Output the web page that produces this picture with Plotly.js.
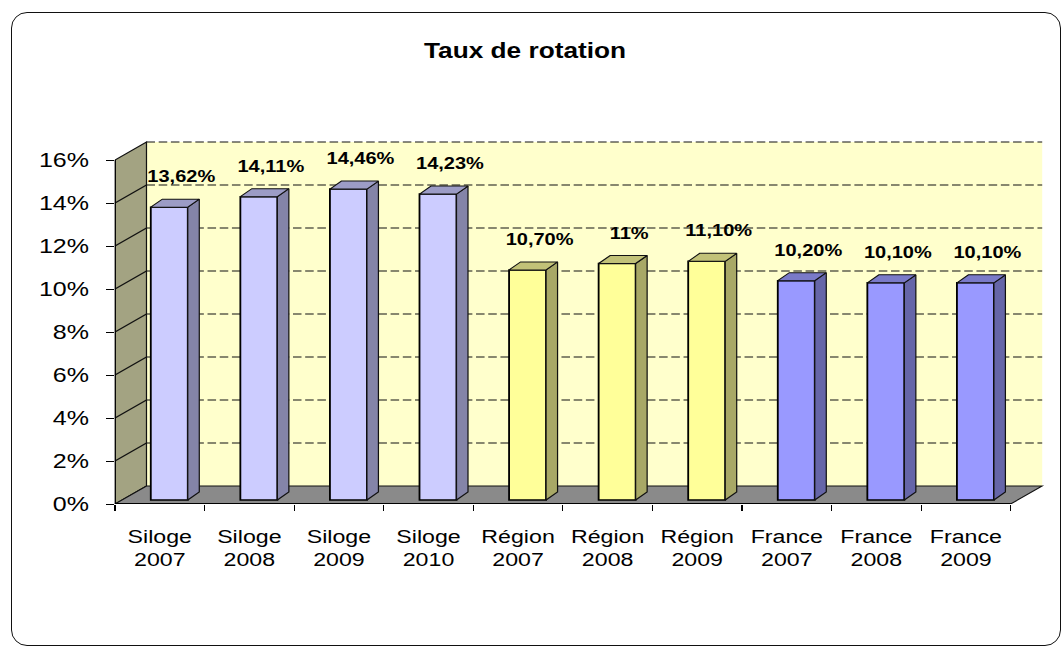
<!DOCTYPE html>
<html><head><meta charset="utf-8">
<script src="https://cdn.plot.ly/plotly-3.0.1.min.js"></script>
<style>
html,body{margin:0;padding:0;background:#fff;overflow:hidden;width:1063px;height:647px;}
#frame{position:absolute;left:11px;top:12px;width:1050px;height:634px;border:1.6px solid #111;border-radius:16px;box-sizing:border-box;}
#chart{position:absolute;left:0;top:0;width:871px;height:647px;transform:scaleX(1.2205);transform-origin:0 0;}
</style></head><body>
<div id="frame"></div><div id="chart"></div>
<script>
// ---- data ----
const groups = ["Siloge","Siloge","Siloge","Siloge","Région","Région","Région","France","France","France"];
const years = ["2007","2008","2009","2010","2007","2008","2009","2007","2008","2009"];
const values = [13.62, 14.11, 14.46, 14.23, 10.70, 11.00, 11.10, 10.20, 10.10, 10.10];
const valueLabels = ["13,62%","14,11%","14,46%","14,23%","10,70%","11%","11,10%","10,20%","10,10%","10,10%"];
const yTicks = [0,2,4,6,8,10,12,14,16];
const yTickLabels = ["0%","2%","4%","6%","8%","10%","12%","14%","16%"];

// ---- style ----
const groupColors = {
  "Siloge": {front:"#CCCCFF", side:"#8484A8", top:"#9C9CC6"},
  "Région": {front:"#FFFF99", side:"#A8A866", top:"#C2C278"},
  "France": {front:"#9999FF", side:"#6666A8", top:"#7A7AC8"}
};
const FONT = "Liberation Sans, Arial, sans-serif";
const W = 871, H = 647;
const CAT_PX = 89.57/1.2205, PCT_PX = 21.5;
const L = 94, R = 8, T = 120, B = 143;
const xLo = -0.5 - (115/1.2205 - L)/CAT_PX;
const xHi = xLo + (W - L - R)/CAT_PX;
const yHi = (H - B - T)/PCT_PX;
// depth (3D look) in axis units
const DX = 31.5/89.57, DY = 18/PCT_PX;
const BO = 9.5/89.57, BW = 37/89.57, BY = 4/PCT_PX;
const BDX = 11.5/89.57, BDY = 8/PCT_PX;
const LX = 12/89.57, LY = 29/PCT_PX;
const n = values.length;
const idx = values.map((v,i)=>i);
const wallTop = yTicks[yTicks.length-1];
const x0 = -0.5, x1 = n - 0.5;

// ---- shapes: walls, floor, gridlines ----
const shapes = [];
shapes.push({type:"rect", xref:"x", yref:"y", layer:"below", x0:x0+DX, x1:x1+DX, y0:DY, y1:wallTop+DY,
  fillcolor:"#FFFFCC", line:{width:0}});
yTicks.forEach(t=>{ if(t>0) shapes.push({type:"line", xref:"x", yref:"y", layer:"below",
  x0:x0+DX, x1:x1+DX, y0:t+DY, y1:t+DY, line:{color:"#111", width:1, dash:"7px,3px"}}); });
shapes.push({type:"path", xref:"x", yref:"y", layer:"below",
  path:`M ${x0},0 L ${x0},${wallTop} L ${x0+DX},${wallTop+DY} L ${x0+DX},${DY} Z`,
  fillcolor:"#A3A382", line:{color:"#111", width:1}});
yTicks.forEach(t=>{ if(t>0 && t<wallTop) shapes.push({type:"line", xref:"x", yref:"y", layer:"below",
  x0:x0, x1:x0+DX, y0:t, y1:t+DY, line:{color:"#111", width:1}}); });
shapes.push({type:"path", xref:"x", yref:"y", layer:"below",
  path:`M ${x0},0 L ${x1},0 L ${x1+DX},${DY} L ${x0+DX},${DY} Z`,
  fillcolor:"#8A8A8A", line:{color:"#111", width:1}});
shapes.push({type:"line", xref:"x", yref:"y", layer:"below", x0:x0, x1:x1, y0:0, y1:0, line:{color:"#000", width:2}});
shapes.push({type:"line", xref:"x", yref:"y", layer:"below", x0:x0, x1:x0, y0:0, y1:wallTop, line:{color:"#000", width:1.5}});

// ---- traces ----
const traces = [];
traces.push({type:"bar", x:idx.map(i=>i+BO), y:values, base:BY, width:BW,
  marker:{color:groups.map(g=>groupColors[g].front), line:{color:"#000", width:1.5}},
  hoverinfo:"skip", showlegend:false});
idx.forEach(i=>{
  const v = values[i] + BY, c = groupColors[groups[i]];
  const a = i + BO - BW/2, b = i + BO + BW/2;
  traces.push({type:"scatter", mode:"lines", fill:"toself", fillcolor:c.side,
    x:[b, b, b+BDX, b+BDX, b], y:[BY, v, v+BDY, BY+BDY, BY],
    line:{color:"#111", width:1}, hoverinfo:"skip", showlegend:false});
  traces.push({type:"scatter", mode:"lines", fill:"toself", fillcolor:c.top,
    x:[a, b, b+BDX, a+BDX, a], y:[v, v, v+BDY, v+BDY, v],
    line:{color:"#111", width:1}, hoverinfo:"skip", showlegend:false});
});
traces.push({type:"scatter", mode:"text", x:idx.map(i=>i+BO+LX), y:values.map(v=>v+BY+LY),
  text:valueLabels, textposition:"middle center",
  textfont:{family:FONT, size:16.4, color:"#000", weight:"bold"}, hoverinfo:"skip", showlegend:false});
traces.push({type:"scatter", x:[0], y:[null], xaxis:"x2", hoverinfo:"skip", showlegend:false});
traces.push({type:"scatter", x:[0], y:[null], xaxis:"x3", hoverinfo:"skip", showlegend:false});

const boundaries = [];
for (let k=0;k<=n;k++) boundaries.push(k-0.5);

const layout = {
  width:W, height:H, margin:{l:L, r:R, t:T, b:B, pad:0},
  paper_bgcolor:"rgba(0,0,0,0)", plot_bgcolor:"rgba(0,0,0,0)",
  showlegend:false,
  title:{text:"Taux de rotation", font:{family:FONT, size:21.5, color:"#000", weight:"bold"},
    xref:"container", yref:"container", x:0.4939, y:1-50/647, xanchor:"center", yanchor:"middle"},
  xaxis:{range:[xLo,xHi], autorange:false, tickmode:"array", tickvals:boundaries, ticks:"outside", ticklen:6,
    tickcolor:"#000", tickwidth:1, showticklabels:false, showgrid:false, zeroline:false, showline:false, fixedrange:true},
  xaxis2:{overlaying:"x", anchor:"y", side:"bottom", range:[xLo,xHi], autorange:false, tickmode:"array",
    tickvals:idx, ticktext:groups, ticks:"", showgrid:false, zeroline:false, showline:false,
    tickfont:{family:FONT, size:19, color:"#000"}, ticklabelstandoff:19, fixedrange:true},
  xaxis3:{overlaying:"x", anchor:"y", side:"bottom", range:[xLo,xHi], autorange:false, tickmode:"array",
    tickvals:idx, ticktext:years, ticks:"", showgrid:false, zeroline:false, showline:false,
    tickfont:{family:FONT, size:19, color:"#000"}, ticklabelstandoff:42, fixedrange:true},
  yaxis:{range:[0,yHi], autorange:false, tickmode:"array", tickvals:yTicks, ticktext:yTickLabels,
    ticks:"outside", ticklen:6, tickcolor:"#000", tickwidth:1, showgrid:false, zeroline:false, showline:false,
    tickfont:{family:FONT, size:20.5, color:"#000"}, ticklabelstandoff:10, fixedrange:true},
  shapes:shapes
};
Plotly.newPlot("chart", traces, layout, {displayModeBar:false, staticPlot:true});
</script>
</body></html>
